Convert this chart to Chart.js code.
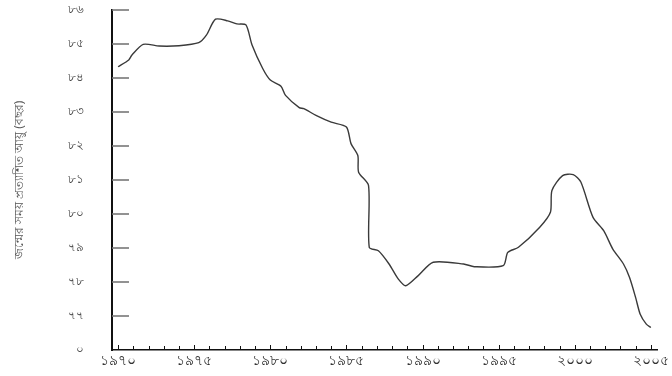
<!DOCTYPE html>
<html>
<head>
<meta charset="utf-8">
<script src="https://cdn.jsdelivr.net/npm/chart.js@4"></script>
<style>
    html, body { margin: 0; padding: 0; background: #fff; }
    #wrap { width: 672px; height: 376px; }
</style>
</head>
<body>
<div id="wrap"><canvas id="chart"></canvas></div>
<script>
const $ = document.querySelector.bind(document)

// values (fractional years)
const years = [1970.0, 1970.7, 1970.9, 1971.65, 1972.7, 1974.0, 1975.3, 1975.8, 1976.4, 1977.2, 1977.8, 1978.4,
    1978.8, 1979.5, 1980.0, 1980.7, 1981.0, 1981.9, 1982.2, 1983.0, 1984.0, 1985.0, 1985.3, 1985.75, 1985.8,
    1986.45, 1986.5, 1987.1, 1987.8, 1988.4, 1988.9, 1989.7, 1990.7, 1992.7, 1993.4, 1995.3, 1995.6, 1996.3,
    1997.7, 1998.4, 1998.5, 1999.2, 1999.9, 2000.4, 2001.2, 2001.9, 2002.5, 2003.2, 2003.6, 2004.0, 2004.3,
    2004.7, 2005.0]
const values = [84.33, 84.53, 84.67, 84.99, 84.94, 84.95, 85.04, 85.26, 85.73, 85.68, 85.59, 85.56,
    84.97, 84.28, 83.94, 83.76, 83.49, 83.13, 83.10, 82.90, 82.70, 82.56, 82.07, 81.72, 81.23,
    80.84, 79.02, 78.92, 78.53, 78.09, 77.89, 78.18, 78.58, 78.53, 78.45, 78.48, 78.87, 79.02,
    79.61, 80.05, 80.69, 81.13, 81.16, 80.94, 79.90, 79.51, 78.97, 78.53, 78.13, 77.54, 77.05,
    76.76, 76.66]

const xTicks = [1970, 1975, 1980, 1985, 1990, 1995, 2000, 2005]
const xTickLabels = ["১৯৭০", "১৯৭৫", "১৯৮০", "১৯৮৫", "১৯৯০", "১৯৯৫", "২০০০", "২০০৫"]
const yTicks = [76, 77, 78, 79, 80, 81, 82, 83, 84, 85, 86]
const yTickLabels = ["০", "৭৭", "৭৮", "৭৯", "৮০", "৮১", "৮২", "৮৩", "৮৪", "৮৫", "৮৬"]
const yTitle = "জন্মের সময় প্রত্যাশিত আয়ু (বছর)"

// ticks point into the plot, so draw them by hand
const inwardTicks = {
    id: "inwardTicks",
    afterDatasetsDraw(chart) {
        const { ctx, scales: { x, y } } = chart
        ctx.save()
        ctx.strokeStyle = "#777"
        ctx.lineWidth = 1.6
        yTicks.slice(1).forEach(v => {
            const py = Math.round(y.getPixelForValue(v))
            ctx.beginPath()
            ctx.moveTo(x.left, py)
            ctx.lineTo(x.left + 17, py)
            ctx.stroke()
        })
        ctx.strokeStyle = "#111"
        ctx.lineWidth = 1
        for (let yr = xTicks[0]; yr <= xTicks[xTicks.length - 1]; yr++) {
            const px = Math.round(x.getPixelForValue(yr)) + 0.5
            ctx.beginPath()
            ctx.moveTo(px, y.bottom)
            ctx.lineTo(px, y.bottom - (yr % 5 === 0 ? 5 : 4))
            ctx.stroke()
        }
        ctx.restore()
    }
}

new Chart($("#chart"), {
    type: "line",
    data: {
        datasets: [{
            data: years.map((yr, i) => ({ x: yr, y: values[i] })),
            borderColor: "#3a3a3a",
            borderWidth: 1.4,
            pointRadius: 0,
            tension: 0.25,
            fill: false,
        }]
    },
    options: {
        responsive: true,
        maintainAspectRatio: false,
        animation: false,
        layout: {
            padding: { top: 10, right: 10, left: 0, bottom: 0 }
        },
        scales: {
            x: {
                type: "linear",
                min: 1969.6,
                max: 2005.45,
                afterBuildTicks: scale => {
                    scale.ticks = xTicks.map(v => ({ value: v }))
                },
                afterFit: scale => { scale.height = 26 },
                ticks: {
                    color: "#333",
                    font: { size: 14, family: "'Noto Sans', sans-serif" },
                    padding: 3,
                    maxRotation: 0,
                    callback: (value) => xTickLabels[xTicks.indexOf(value)],
                },
                grid: { display: false, drawTicks: false },
                border: { display: true, color: "#111", width: 1.5 },
            },
            y: {
                min: 76,
                max: 86,
                afterBuildTicks: scale => {
                    scale.ticks = yTicks.map(v => ({ value: v }))
                },
                afterFit: scale => {
                    scale.width = 112
                    scale.paddingTop = 0
                    scale.paddingBottom = 0
                },
                ticks: {
                    color: "#444",
                    font: { size: 12, family: "'Noto Sans', sans-serif" },
                    padding: 28,
                    callback: (value) => yTickLabels[yTicks.indexOf(value)],
                },
                title: {
                    display: true,
                    text: yTitle,
                    color: "#555",
                    font: { size: 12, family: "'Noto Sans', sans-serif" },
                    padding: { top: 12, bottom: 0 },
                },
                grid: { display: false, drawTicks: false },
                border: { display: true, color: "#111", width: 2 },
            }
        },
        plugins: {
            legend: { display: false },
            tooltip: { enabled: false }
        }
    },
    plugins: [inwardTicks]
});
</script>
</body>
</html>
